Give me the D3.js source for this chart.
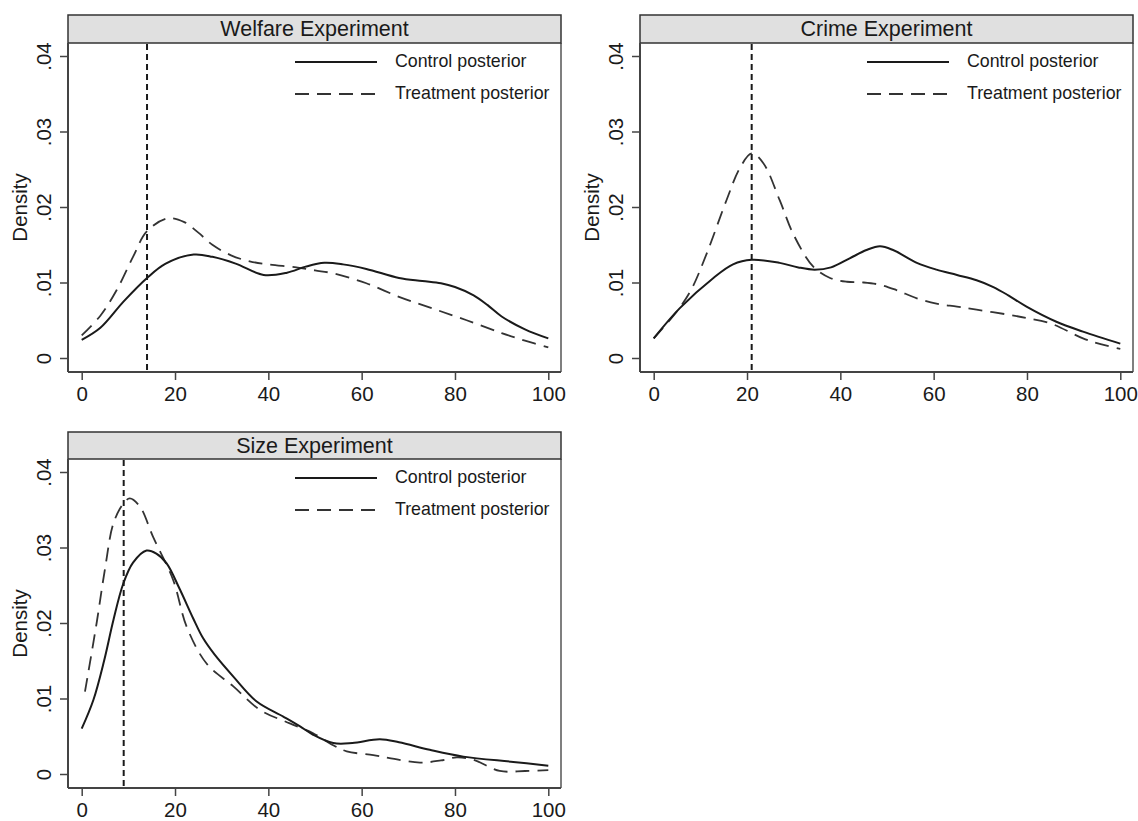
<!DOCTYPE html>
<html><head><meta charset="utf-8">
<script src="https://cdn.jsdelivr.net/npm/d3@7"></script>
<style>body{margin:0;background:#fff}</style>
</head><body><svg id="c" width="1138" height="821"></svg>
<script>
// ---------- data ----------
const titles = ["Welfare Experiment", "Crime Experiment", "Size Experiment"];
const seriesNames = ["Control posterior", "Treatment posterior"];
const xTicks = [0, 20, 40, 60, 80, 100];
const yTicks = [0, 0.01, 0.02, 0.03, 0.04];
const yTickLabels = ["0", ".01", ".02", ".03", ".04"];
const yLabel = "Density";
const markers = [14, 21, 9];

const welfareControl = [[0,.0024],[4,.0040],[9,.0075],[14,.0106],[18,.0125],[24,.0137],[28,.0134],[33,.0125],[39,.0110],[44,.0113],[48,.0121],[52,.0126],[56,.0124],[61,.0118],[68,.0106],[73,.0102],[77,.0099],[80,.0094],[84,.0083],[87,.0070],[90,.0055],[95,.0038],[100,.0026]];
const welfareTreatment = [[0,.0030],[4,.0056],[7.5,.0090],[11,.0134],[14,.0168],[18.5,.0185],[22,.0180],[25,.0166],[28,.0150],[32,.0136],[36,.0128],[40,.0124],[46,.0120],[50,.0116],[54,.0112],[61,.0099],[68,.0081],[75,.0066],[82.5,.0050],[90,.0033],[95,.0023],[100,.0014]];
const crimeControl = [[0,.0026],[5.6,.0066],[12.8,.0106],[17,.0124],[21,.0130],[27,.0126],[31,.0120],[34.5,.0117],[38,.0120],[42,.0132],[45.6,.0143],[48.5,.0148],[51.3,.0143],[56.4,.0126],[60.6,.0117],[65,.0110],[69.2,.0103],[72.8,.0094],[76,.0083],[79.9,.0068],[86.3,.0048],[92,.0035],[100,.0019]];
const crimeTreatment = [[0,.0026],[5,.0062],[8,.0090],[11.4,.0139],[15.6,.0209],[18.5,.0252],[21,.0271],[23.5,.0258],[27,.0209],[30,.0163],[34.2,.0121],[37.8,.0106],[41.4,.0101],[45,.0100],[48.5,.0097],[52,.0090],[56.4,.0079],[60.6,.0072],[65,.0068],[69.2,.0064],[76.4,.0057],[79.9,.0053],[85,.0046],[92,.0026],[96,.0018],[100,.0012]];
const sizeControl = [[0,.0060],[2.5,.0098],[4.8,.0150],[6.8,.0204],[8.9,.0252],[11,.0280],[13.9,.0296],[16,.0292],[18.2,.0279],[21,.0245],[23.9,.0206],[26,.0180],[28.5,.0158],[32.5,.0129],[37.5,.0096],[43.2,.0076],[46.8,.0063],[49.6,.0052],[53.9,.0041],[58,.0041],[63.9,.0046],[68,.0042],[74.6,.0032],[81.8,.0023],[92.5,.0016],[100,.0011]];
const sizeTreatment = [[0.7,.0109],[3.2,.0200],[5,.0272],[6.8,.0332],[8.9,.0358],[10.3,.0365],[12.5,.0354],[15.3,.0314],[19.6,.0257],[22.5,.0195],[26.8,.0146],[32.5,.0116],[38.2,.0085],[44.6,.0067],[49.6,.0054],[53.9,.0038],[56.8,.0030],[62.5,.0025],[67,.0020],[72.5,.0015],[77,.0018],[80.4,.0022],[83.9,.0019],[89.6,.0004],[95,.0004],[100,.0005]];

const panelsData = [
  {title: titles[0], control: welfareControl, treatment: welfareTreatment, marker: markers[0]},
  {title: titles[1], control: crimeControl, treatment: crimeTreatment, marker: markers[1]},
  {title: titles[2], control: sizeControl, treatment: sizeTreatment, marker: markers[2]}
];
// ---------- layout ----------
const layout = [
  {x: 68, y: 15, w: 493, h: 357, hh: 28},
  {x: 640, y: 15, w: 493, h: 357, hh: 28},
  {x: 68, y: 432, w: 493, h: 356, hh: 27}
];
const FONT = "'Liberation Sans', Arial, sans-serif";
const ink = "#1a1a1a";
const svg = d3.select("#c");

panelsData.forEach((p, i) => {
  const L = layout[i];
  const g = svg.append("g");
  const plotTop = L.y + L.hh, plotBottom = L.y + L.h;
  const x = d3.scaleLinear().domain([0, 100]).range([L.x + 13.7, L.x + L.w - 12.7]);
  const y = d3.scaleLinear().domain([0, 0.04]).range([plotBottom - 14, plotTop + 13]);

  // plot border (right)
  g.append("line").attr("x1", L.x + L.w).attr("x2", L.x + L.w).attr("y1", plotTop).attr("y2", plotBottom)
    .attr("stroke", "#555").attr("stroke-width", 1.5);

  // header
  g.append("rect").attr("x", L.x).attr("y", L.y).attr("width", L.w).attr("height", L.hh)
    .attr("fill", "#e0e0e0").attr("stroke", "#333").attr("stroke-width", 1.5);
  g.append("text").attr("x", L.x + L.w / 2).attr("y", L.y + L.hh / 2 + 1.5)
    .attr("text-anchor", "middle").attr("dominant-baseline", "middle")
    .attr("font-family", FONT).attr("font-size", 21.5).attr("fill", ink).text(p.title);

  // axes
  const xa = d3.axisBottom(x).tickValues(xTicks).tickSize(8).tickPadding(5).tickFormat(d3.format("d"));
  const xg = g.append("g").attr("transform", `translate(0,${plotBottom})`).call(xa);
  xg.select(".domain").attr("d", `M${L.x},0H${L.x + L.w}`);
  const ya = d3.axisLeft(y).tickValues(yTicks).tickSize(8).tickPadding(6).tickFormat((d, k) => yTickLabels[k]);
  const yg = g.append("g").attr("transform", `translate(${L.x},0)`).call(ya);
  yg.select(".domain").attr("d", `M0,${plotTop}V${plotBottom}`);
  [xg, yg].forEach(a => {
    a.selectAll(".domain").attr("stroke", "#444").attr("stroke-width", 2);
    a.selectAll(".tick line").attr("stroke", "#444").attr("stroke-width", 1.5);
    a.selectAll("text").attr("font-family", FONT).attr("font-size", 20.5).attr("fill", ink);
  });
  yg.selectAll(".tick text")
    .attr("x", null).attr("dy", null)
    .attr("text-anchor", "middle")
    .attr("transform", "translate(-17,0) rotate(-90)");
  xg.selectAll(".tick text").attr("dy", "0.8em");

  // y label
  g.append("text").attr("transform", `translate(${L.x - 41},${(plotTop + plotBottom) / 2}) rotate(-90)`)
    .attr("text-anchor", "middle").attr("font-family", FONT).attr("font-size", 20.5).attr("fill", ink).text(yLabel);

  // marker line
  g.append("line").attr("x1", x(p.marker)).attr("x2", x(p.marker)).attr("y1", plotTop + 1).attr("y2", plotBottom)
    .attr("stroke", ink).attr("stroke-width", 2).attr("stroke-dasharray", "6,4");

  // curves
  const line = d3.line().x(d => x(d[0])).y(d => y(d[1])).curve(d3.curveCatmullRom.alpha(0.5));
  g.append("path").attr("d", line(p.treatment)).attr("fill", "none").attr("stroke", "#333")
    .attr("stroke-width", 1.8).attr("stroke-dasharray", "14,8");
  g.append("path").attr("d", line(p.control)).attr("fill", "none").attr("stroke", ink).attr("stroke-width", 2);

  // legend
  const ly = [plotTop + 19, plotTop + 51];
  const dashes = [null, "14,8"];
  seriesNames.forEach((s, k) => {
    g.append("line").attr("x1", L.x + 227).attr("x2", L.x + 309).attr("y1", ly[k]).attr("y2", ly[k])
      .attr("stroke", k ? "#333" : ink).attr("stroke-width", k ? 1.8 : 2).attr("stroke-dasharray", dashes[k]);
    g.append("text").attr("x", L.x + 327).attr("y", ly[k]).attr("dominant-baseline", "middle")
      .attr("font-family", FONT).attr("font-size", 17.8).attr("fill", ink).text(s);
  });
});
</script></body></html>
